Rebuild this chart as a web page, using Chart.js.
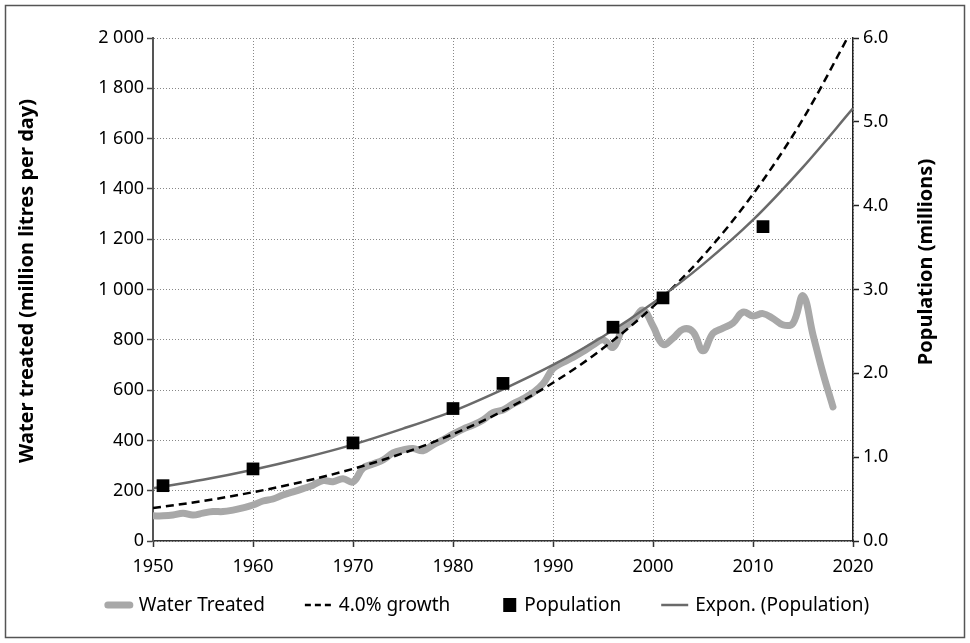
<!DOCTYPE html>
<html><head><meta charset="utf-8">
<script src="https://cdn.jsdelivr.net/npm/chart.js@4/dist/chart.umd.min.js"></script>
<style>html,body{margin:0;padding:0;background:#fff;}#wrap{position:relative;width:970px;height:643px;}</style>
</head><body><div id="wrap"><canvas id="c" width="970" height="643"></canvas></div>
<script>
// ---------- DATA ----------
const waterYears = [1950,1951,1952,1953,1954,1955,1956,1957,1958,1959,1960,1961,1962,1963,1964,1965,1966,1967,1968,1969,1970,1971,1972,1973,1974,1975,1976,1977,1978,1979,1980,1981,1982,1983,1984,1985,1986,1987,1988,1989,1990,1991,1992,1993,1994,1995,1996,1997,1998,1999,2000,2001,2002,2003,2004,2005,2006,2007,2008,2009,2010,2011,2012,2013,2014,2015,2016,2017,2018];
const waterTreated = [100,100,103,110,103,111,117,117,123,132,143,159,167,183,195,208,222,240,236,248,235,290,306,322,350,362,368,359,382,402,425,445,461,481,510,521,545,565,590,625,685,710,730,753,779,800,770,845,875,918,855,782,806,842,832,756,826,846,867,910,895,904,885,859,866,975,820,667,533];

const growthYears = [1950,1955,1960,1965,1970,1975,1980,1985,1990,1995,2000,2005,2010,2015,2020];
const growth4pct = [131,159,194,236,287,349,425,517,629,766,932,1133,1379,1678,2041];

const popYears = [1951,1960,1970,1980,1985,1996,2001,2011];
const population = [0.66,0.86,1.17,1.58,1.88,2.55,2.90,3.75];

const trendYears = [1950,1955,1960,1965,1970,1975,1980,1985,1990,1995,2000,2005,2010,2015,2020];
const popTrend = [0.63,0.73,0.85,0.99,1.15,1.34,1.55,1.81,2.10,2.44,2.84,3.30,3.83,4.46,5.16];

const xTickLabels = ['1950','1960','1970','1980','1990','2000','2010','2020'];
const leftTickLabels = ['0','200','400','600','800','1 000','1 200','1 400','1 600','1 800','2 000'];
const rightTickLabels = ['0.0','1.0','2.0','3.0','4.0','5.0','6.0'];

const seriesNames = ['Water Treated','4.0% growth','Population','Expon. (Population)'];
const leftTitle = 'Water treated (million litres per day)';
const rightTitle = 'Population (millions)';

// ---------- STYLE ----------
const FONT = '"Noto Sans", "DejaVu Sans", sans-serif';
const WATER_C = '#a8a8a8', TREND_C = '#6a6a6a';

const toPts = (xs, ys) => xs.map((x, i) => ({x, y: ys[i]}));

const deco = {
  id: 'deco',
  beforeDraw(chart) {
    const ctx = chart.ctx;
    ctx.save(); ctx.fillStyle = '#fff'; ctx.fillRect(0, 0, chart.width, chart.height); ctx.restore();
  },
  afterDraw(chart) {
    const ctx = chart.ctx;
    ctx.save();
    ctx.strokeStyle = '#555'; ctx.lineWidth = 1.5;
    ctx.strokeRect(5.5, 5.5, 959, 632);
    // titles
    ctx.fillStyle = '#000';
    ctx.font = 'bold 20px ' + FONT;
    ctx.textAlign = 'center'; ctx.textBaseline = 'middle';
    ctx.save(); ctx.translate(27, 281); ctx.rotate(-Math.PI / 2); ctx.fillText(leftTitle, 0, 0); ctx.restore();
    ctx.save(); ctx.translate(926, 262); ctx.rotate(-Math.PI / 2); ctx.fillText(rightTitle, 0, 0); ctx.restore();
    // legend
    ctx.font = '19px ' + FONT;
    ctx.textAlign = 'left';
    const sw = 27, g1 = 7, g2 = 40, ly = 605;
    const widths = seriesNames.map(n => ctx.measureText(n).width);
    const total = widths.reduce((a, b) => a + b, 0) + 4 * (sw + g1) + 3 * g2;
    let x = 487 - total / 2;
    seriesNames.forEach((n, i) => {
      ctx.save();
      if (i === 0) { ctx.strokeStyle = WATER_C; ctx.lineWidth = 7; ctx.lineCap = 'round';
        ctx.beginPath(); ctx.moveTo(x + 3, ly); ctx.lineTo(x + sw - 2, ly); ctx.stroke(); }
      else if (i === 1) { ctx.strokeStyle = '#000'; ctx.lineWidth = 2.5; ctx.setLineDash([6, 4]);
        ctx.beginPath(); ctx.moveTo(x, ly); ctx.lineTo(x + sw, ly); ctx.stroke(); }
      else if (i === 2) { ctx.fillStyle = '#000'; ctx.fillRect(x + sw - 14, ly - 7, 13, 14); }
      else { ctx.strokeStyle = TREND_C; ctx.lineWidth = 2.5;
        ctx.beginPath(); ctx.moveTo(x, ly); ctx.lineTo(x + sw, ly); ctx.stroke(); }
      ctx.restore();
      x += sw + g1;
      ctx.fillStyle = '#000';
      ctx.fillText(n, x, ly + 1);
      x += widths[i] + g2;
    });
    ctx.restore();
  }
};

const tickFont = {family: FONT, size: 18};

new Chart(document.getElementById('c'), {
  type: 'line',
  data: {
    datasets: [
      {label: seriesNames[2], type: 'scatter', data: toPts(popYears, population), yAxisID: 'y2',
        pointStyle: 'rect', pointRadius: 9, pointHoverRadius: 9, backgroundColor: '#000', borderColor: '#000', borderWidth: 0, order: 1},
      {label: seriesNames[3], data: toPts(trendYears, popTrend), yAxisID: 'y2', borderColor: TREND_C, borderWidth: 2.5,
        pointRadius: 0, cubicInterpolationMode: 'monotone', order: 2},
      {label: seriesNames[1], data: toPts(growthYears, growth4pct), yAxisID: 'y', borderColor: '#000', borderWidth: 2.5,
        borderDash: [8, 5], pointRadius: 0, cubicInterpolationMode: 'monotone', order: 3},
      {label: seriesNames[0], data: toPts(waterYears, waterTreated), yAxisID: 'y', borderColor: WATER_C, borderWidth: 7,
        pointRadius: 0, tension: 0.4, borderCapStyle: 'round', borderJoinStyle: 'round', order: 4}
    ]
  },
  options: {
    responsive: false, devicePixelRatio: 1, animation: false,
    layout: {padding: {left: 0, right: 0, top: 38, bottom: 62}},
    plugins: {legend: {display: false}, tooltip: {enabled: false}},
    scales: {
      x: {type: 'linear', min: 1950, max: 2020,
        afterFit: s => { s.height = 40; },
        afterBuildTicks: s => { s.ticks = xTickLabels.map(v => ({value: Number(v)})); },
        ticks: {stepSize: 10, color: '#000', font: tickFont, padding: 9, maxRotation: 0,
          callback: (v) => xTickLabels[xTickLabels.indexOf(String(v))]},
        grid: {color: '#888', lineWidth: 1, tickLength: 6, tickColor: '#333', tickWidth: 1.5, tickBorderDash: []},
        border: {display: true, color: '#333', width: 1.5, dash: [1, 2]}
      },
      y: {position: 'left', min: 0, max: 2000,
        afterFit: s => { s.width = 153; },
        afterBuildTicks: s => { s.ticks = leftTickLabels.map(t => ({value: Number(t.replace(/\s/g, ''))})); },
        ticks: {color: '#000', font: tickFont, padding: 3,
          callback: (v) => leftTickLabels.find(t => Number(t.replace(/\s/g, '')) === v)},
        grid: {color: '#888', lineWidth: 1, tickLength: 6, tickColor: '#444', tickWidth: 1.5, tickBorderDash: []},
        border: {display: true, color: '#555', width: 2, dash: [1, 2]}
      },
      y2: {position: 'right', min: 0, max: 6,
        afterFit: s => { s.width = 117; },
        afterBuildTicks: s => { s.ticks = rightTickLabels.map(t => ({value: Number(t)})); },
        ticks: {color: '#000', font: tickFont, padding: 4,
          callback: (v) => rightTickLabels.find(t => Number(t) === v)},
        grid: {drawOnChartArea: false, tickLength: 6, tickColor: '#222', tickWidth: 1.5, tickBorderDash: []},
        border: {display: true, color: '#222', width: 1.5}
      }
    }
  },
  plugins: [deco]
});
</script></body></html>
